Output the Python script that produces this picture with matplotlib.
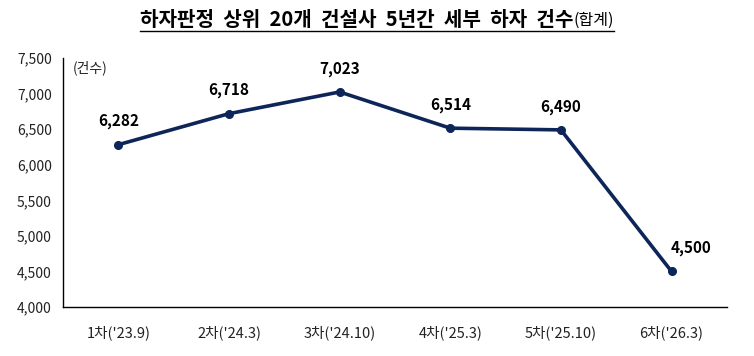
import matplotlib
matplotlib.use('Agg')
import matplotlib.pyplot as plt
from matplotlib.lines import Line2D

plt.rcParams['font.family'] = ['Noto Sans CJK KR', 'DejaVu Sans']

# ─── DATA ─────────────────────────────────────────────────────────────────────
rounds = ["1차('23.9)", "2차('24.3)", "3차('24.10)", "4차('25.3)", "5차('25.10)", "6차('26.3)"]
counts = [6282, 6718, 7023, 6514, 6490, 4500]
y_ticks = [4000, 4500, 5000, 5500, 6000, 6500, 7000, 7500]

navy = '#0d2559'

fig = plt.figure(figsize=(7.54, 3.56), dpi=100)
ax = fig.add_axes([0.0836, 0.1376, 0.8804, 0.6994])

x = range(len(rounds))
ax.plot(x, counts, color=navy, lw=2.6, marker='o', ms=5.5, zorder=3)
for i, v in zip(x, counts):
    # last point's label sits up and to the right, like the original
    dx = 14 if i == len(counts) - 1 else 0
    ax.annotate(f'{v:,}', (i, v), xytext=(dx, 11), textcoords='offset points',
                ha='center', va='bottom', fontsize=11, fontweight='bold', color='black')

ax.set_xlim(-0.5, len(rounds) - 0.5)
ax.set_ylim(4000, 7500)
ax.set_yticks(y_ticks)
ax.set_yticklabels([f'{t:,}' for t in y_ticks])
ax.set_xticks(list(x))
ax.set_xticklabels(rounds)
ax.tick_params(axis='both', length=0, colors='#222222')
ax.tick_params(axis='x', pad=13, labelsize=10.5)
ax.tick_params(axis='y', pad=8, labelsize=10)
for s in ['top', 'right']:
    ax.spines[s].set_visible(False)
for s in ['left', 'bottom']:
    ax.spines[s].set_color('black')
    ax.spines[s].set_linewidth(1.0)

ax.text(0.015, 0.99, '(건수)', transform=ax.transAxes, ha='left', va='top',
        fontsize=10, color='#222222')

# title: bold part + small "(합계)", underlined
t1 = fig.text(0.5, 0.945, '하자판정  상위  20개  건설사  5년간  세부  하자  건수',
              ha='center', va='center', fontsize=14.5, fontweight='bold')
fig.canvas.draw()
r = fig.canvas.get_renderer()
bb1 = t1.get_window_extent(r)
t2 = fig.text(0, 0, '(합계)', fontsize=11.5, ha='left', va='baseline')
bb2 = t2.get_window_extent(r)
W = fig.bbox.width
total = bb1.width + bb2.width
start = (W - total) / 2
t1.set_position((start / W, 0.945))
t1.set_ha('left')
fig.canvas.draw()
bb1 = t1.get_window_extent(r)
t2.set_position((bb1.x1 / W, (bb1.y0 + 5) / fig.bbox.height))
fig.canvas.draw()
bb2 = t2.get_window_extent(r)
uy = (bb1.y0 - 1) / fig.bbox.height
fig.add_artist(Line2D([bb1.x0 / W, bb2.x1 / W], [uy, uy], color='black', lw=1.0,
                      transform=fig.transFigure))

fig.savefig('out.png', dpi=100)
